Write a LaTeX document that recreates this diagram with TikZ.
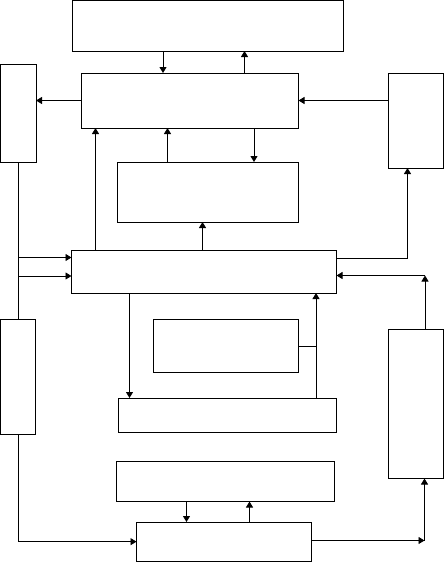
\documentclass[tikz,border=0pt]{standalone}
\usetikzlibrary{arrows.meta}
\begin{document}
\begin{tikzpicture}[x=1pt,y=-1pt,
  box/.style={draw,line width=0.9pt,inner sep=0pt,outer sep=0pt,anchor=north west},
  arr/.style={line width=0.9pt,-{Triangle[width=7pt,length=6pt]}},
  ln/.style={line width=0.9pt}]
\useasboundingbox (0,0) rectangle (444,562);
% boxes
\node[box,minimum width=271pt,minimum height=50.2pt] (T) at (72.5,0.8) {};
\node[box,minimum width=217pt,minimum height=55pt] (M1) at (81.5,73) {};
\node[box,minimum width=35.3pt,minimum height=98pt] (L1) at (0.7,64) {};
\node[box,minimum width=54.8pt,minimum height=95pt] (R1) at (388.5,73) {};
\node[box,minimum width=181pt,minimum height=60pt] (B2) at (117.5,162) {};
\node[box,minimum width=265pt,minimum height=43pt] (M2) at (71.5,250) {};
\node[box,minimum width=34.8pt,minimum height=114.5pt] (L2) at (0.7,319.5) {};
\node[box,minimum width=145pt,minimum height=53pt] (S) at (153.5,319.5) {};
\node[box,minimum width=54.8pt,minimum height=149.5pt] (R2) at (388.5,329) {};
\node[box,minimum width=218pt,minimum height=34.5pt] (B3) at (118.5,398) {};
\node[box,minimum width=218pt,minimum height=40.5pt] (B4) at (116.5,461) {};
\node[box,minimum width=175pt,minimum height=39.3pt] (B5) at (136.5,522) {};
% connectors
\draw[arr] (163,0 |- T.south) -- (163,0 |- M1.north);
\draw[arr] (244.5,0 |- M1.north) -- (244.5,0 |- T.south);
\draw[arr] (M1.west) -- (L1.east |- M1.west);
\draw[arr] (R1.west |- M1.east) -- (M1.east);
\draw[arr] (95.5,0 |- M2.north) -- (95.5,0 |- M1.south);
\draw[arr] (167.5,0 |- B2.north) -- (167.5,0 |- M1.south);
\draw[arr] (254,0 |- M1.south) -- (254,0 |- B2.north);
\draw[ln] (L1.south) -- (L1.south |- L2.north);
\draw[arr] (L1.south |- 0,257.5) -- (M2.west |- 0,257.5);
\draw[arr] (L1.south |- 0,276) -- (M2.west |- 0,276);
\draw[arr] (202.5,0 |- M2.north) -- (202.5,0 |- B2.south);
\draw[arr] (M2.east |- 0,258.5) -| (407.5,0 |- R1.south);
\coordinate (c11) at (425,275.5);
\draw[arr] (R2.north -| c11) -- (c11);
\draw[arr] (c11) -- (M2.east |- c11);
\draw[arr] (129.5,0 |- M2.south) -- (129.5,0 |- B3.north);
\draw[arr] (316,0 |- B3.north) -- (316,0 |- M2.south);
\draw[ln] (S.east) -- (316,0 |- S.east);
\draw[arr] (L2.south) |- (B5.west);
\draw[arr] (186.5,0 |- B4.south) -- (186.5,0 |- B5.north);
\draw[arr] (249.5,0 |- B5.north) -- (249.5,0 |- B4.south);
\coordinate (c17) at (424.5,540.5);
\draw[arr] (B5.east |- c17) -- (c17);
\draw[arr] (c17) -- (R2.south -| c17);
\end{tikzpicture}
\end{document}
